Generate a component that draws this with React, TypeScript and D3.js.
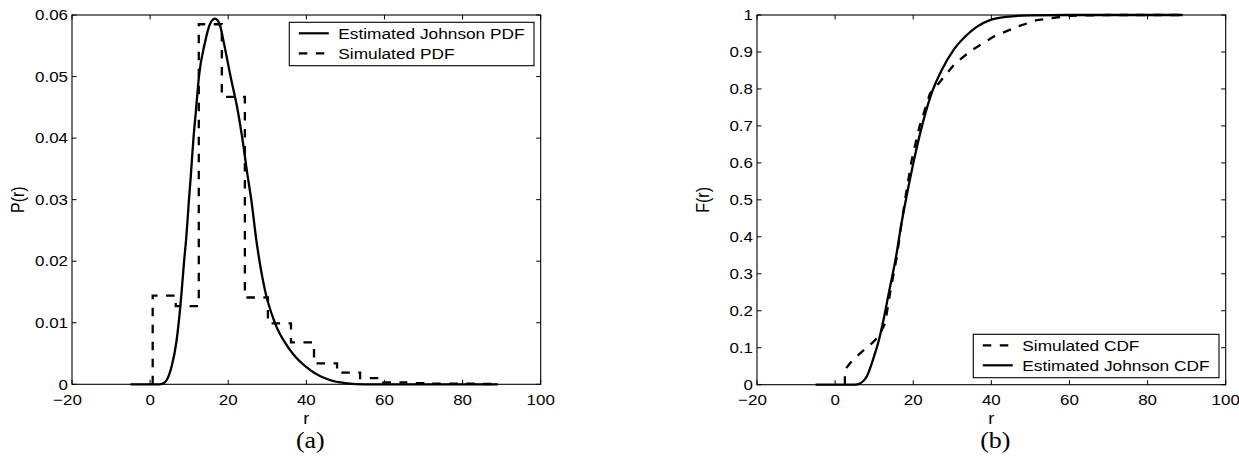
import React from "react";
import * as d3 from "d3";

// ---------- data ----------
const xTicks = [-20, 0, 20, 40, 60, 80, 100];
const pdfYTicks = [0, 0.01, 0.02, 0.03, 0.04, 0.05, 0.06];
const pdfYTickLabels = ["0", "0.01", "0.02", "0.03", "0.04", "0.05", "0.06"];
const cdfYTicks = [0, 0.1, 0.2, 0.3, 0.4, 0.5, 0.6, 0.7, 0.8, 0.9, 1];
const cdfYTickLabels = ["0", "0.1", "0.2", "0.3", "0.4", "0.5", "0.6", "0.7", "0.8", "0.9", "1"];

// Estimated Johnson PDF (r, P)
const johnsonPdfR = [-5, 2.5, 3.5, 4.25, 5.5, 6.8, 7.4, 8.1, 8.7, 9.2, 9.95, 10.4, 11.1, 11.75, 12.5, 14.0, 15.3, 16.6, 17.8, 18.9, 20.6, 22.4, 23.6, 25.0, 25.9, 27.2, 29.4, 32.0, 35.8, 41.0, 46.0, 50.0, 55.0, 89.0];
const johnsonPdfP = [0, 0, 0.0002, 0.0007, 0.0029, 0.0072, 0.0105, 0.0153, 0.02, 0.0234, 0.03, 0.0337, 0.04, 0.0446, 0.05, 0.0554, 0.0585, 0.0594, 0.0585, 0.0554, 0.05, 0.0446, 0.04, 0.0337, 0.03, 0.0234, 0.0153, 0.0099, 0.0056, 0.0023, 0.0007, 0.0002, 0, 0];

// Simulated PDF histogram (bin edges and heights)
const histEdges = [0.66, 6.56, 12.46, 18.36, 24.26, 30.16, 36.06, 41.96, 47.86, 53.76, 59.66, 65.56, 71.46, 77.36, 83.26, 89.16];
const histValues = [0.0144, 0.0127, 0.0585, 0.0467, 0.0141, 0.0099, 0.0068, 0.0034, 0.0019, 0.001, 0.0003, 0.0002, 0.0001, 0.0001, 0.00005];

// Estimated Johnson CDF (r, F)
const johnsonCdfR = [-5, 5.0, 6.5, 8.1, 9.95, 11.2, 12.2, 13.9, 15.6, 17.0, 18.3, 20.2, 22.2, 24.7, 27.3, 30.3, 33.25, 36.25, 39.65, 43.9, 50, 60, 89];
const johnsonCdfF = [0, 0, 0.004, 0.022, 0.076, 0.12, 0.166, 0.256, 0.346, 0.437, 0.51, 0.608, 0.698, 0.788, 0.851, 0.905, 0.941, 0.968, 0.986, 0.995, 0.999, 1, 1];

// Simulated CDF (r, F)
const simCdfR = [2.5, 2.5, 3.8, 6.4, 9.4, 11.1, 12.8, 14.2, 15.8, 17.0, 18.2, 19.6, 21.6, 24.3, 26.5, 30.7, 35.0, 40.5, 46.5, 51.6, 60, 70, 88.3];
const simCdfF = [0, 0.04, 0.058, 0.085, 0.112, 0.13, 0.166, 0.256, 0.346, 0.437, 0.52, 0.608, 0.698, 0.788, 0.815, 0.869, 0.905, 0.941, 0.968, 0.986, 0.998, 1, 1];

// ---------- layout ----------
const W = 1239;
const H = 463;
const SX = 1.13; // horizontal stretch of the reference's text
const FONT = "'Liberation Sans', Arial, Helvetica, sans-serif";
const DASH = "8.5,8.5";

type Pt = [number, number];

function T({ x, y, anchor = "middle", size = 15, rotate = 0, family = FONT, dx = 0, dy = "0.35em", children }: any) {
  return (
    <g transform={`translate(${x},${y}) scale(${SX},1) rotate(${rotate})`}>
      <text x={dx} dy={dy} textAnchor={anchor} fontSize={size} fontFamily={family} fill="#000">
        {children}
      </text>
    </g>
  );
}

function Panel({ x0, x1, y0, y1, yDomain, yTicks, yTickLabels, ylabel, caption, children, legend }: any) {
  const xs = d3.scaleLinear().domain([-20, 100]).range([x0, x1]);
  const ys = d3.scaleLinear().domain(yDomain).range([y0, y1]);
  const tl = 4.5;
  return children(xs, ys, (
    <g>
      <rect x={x0} y={y1} width={x1 - x0} height={y0 - y1} fill="none" stroke="#000" strokeWidth={1.1} />
      {xTicks.map((t) => (
        <g key={"xt" + t}>
          <line x1={xs(t)} x2={xs(t)} y1={y0} y2={y0 - tl} stroke="#000" strokeWidth={1} />
          <line x1={xs(t)} x2={xs(t)} y1={y1} y2={y1 + tl} stroke="#000" strokeWidth={1} />
          <T x={xs(t)} y={399.5} dx={t < 0 ? -4 : 0}>{t < 0 ? "\u2212" + Math.abs(t) : String(t)}</T>
        </g>
      ))}
      {yTicks.map((t: number, i: number) => (
        <g key={"yt" + t}>
          <line x1={x0} x2={x0 + tl} y1={ys(t)} y2={ys(t)} stroke="#000" strokeWidth={1} />
          <line x1={x1} x2={x1 - tl} y1={ys(t)} y2={ys(t)} stroke="#000" strokeWidth={1} />
          <T x={x0 - 4} y={ys(t)} anchor="end">{yTickLabels[i]}</T>
        </g>
      ))}
      <T x={(x0 + x1) / 2} y={418} size={16}>r</T>
      <T x={x0 - 54} y={(y0 + y1) / 2} size={16} rotate={-90}>{ylabel}</T>
      <T x={(x0 + x1) / 2 + 4} y={448} size={23} dy="0" family="'Liberation Serif', 'Times New Roman', serif">{caption}</T>
      {legend}
    </g>
  ));
}

function Legend({ x, y, w, h, items }: any) {
  return (
    <g>
      <rect x={x} y={y} width={w} height={h} fill="#fff" stroke="#000" strokeWidth={1.1} />
      {items.map((it: any, i: number) => {
        const cy = y + 11 + i * 20;
        return (
          <g key={it.label}>
            <line x1={x + 9.5} x2={x + 39.5} y1={cy} y2={cy} stroke="#000" strokeWidth={2.2} strokeDasharray={it.dashed ? DASH : undefined} />
            <T x={x + 49} y={cy} anchor="start" size={15.3}>{it.label}</T>
          </g>
        );
      })}
    </g>
  );
}

export default function App() {
  const zip = (a: number[], b: number[]): Pt[] => a.map((v, i) => [v, b[i]]);

  const stairs: Pt[] = [[histEdges[0], 0]];
  histValues.forEach((v, i) => {
    stairs.push([histEdges[i], v]);
    stairs.push([histEdges[i + 1], v]);
  });

  return (
    <svg width={W} height={H} style={{ position: "absolute", left: 0, top: 0, background: "#fff" }}>
      <rect x={0} y={0} width={W} height={H} fill="#fff" />
      <Panel
        x0={72} x1={540.7} y0={384.3} y1={15}
        yDomain={[0, 0.06]} yTicks={pdfYTicks} yTickLabels={pdfYTickLabels}
        ylabel="P(r)" caption="(a)"
        legend={<Legend x={289.3} y={22.3} w={244.7} h={43.4} items={[{ label: "Estimated Johnson PDF", dashed: false }, { label: "Simulated PDF", dashed: true }]} />}
      >
        {(xs: any, ys: any, frame: any) => {
          const lineSmooth = d3.line<Pt>().x((d) => xs(d[0])).y((d) => ys(d[1])).curve(d3.curveMonotoneX);
          const lineLin = d3.line<Pt>().x((d) => xs(d[0])).y((d) => ys(d[1]));
          return (
            <g>
              <path d={lineSmooth(zip(johnsonPdfR, johnsonPdfP)) || ""} fill="none" stroke="#000" strokeWidth={2.3} />
              <path d={lineLin(stairs) || ""} fill="none" stroke="#000" strokeWidth={2.3} strokeDasharray={DASH} />
              {frame}
            </g>
          );
        }}
      </Panel>
      <Panel
        x0={757} x1={1225.7} y0={384.7} y1={15}
        yDomain={[0, 1]} yTicks={cdfYTicks} yTickLabels={cdfYTickLabels}
        ylabel="F(r)" caption="(b)"
        legend={<Legend x={973.3} y={334.3} w={245.7} h={43.4} items={[{ label: "Simulated CDF", dashed: true }, { label: "Estimated Johnson CDF", dashed: false }]} />}
      >
        {(xs: any, ys: any, frame: any) => {
          const lineSmooth = d3.line<Pt>().x((d) => xs(d[0])).y((d) => ys(d[1])).curve(d3.curveMonotoneX);
          const lineLin = d3.line<Pt>().x((d) => xs(d[0])).y((d) => ys(d[1])).curve(d3.curveLinear);
          return (
            <g>
              <path d={lineSmooth(zip(johnsonCdfR, johnsonCdfF)) || ""} fill="none" stroke="#000" strokeWidth={2.3} />
              <path d={lineLin(zip(simCdfR, simCdfF)) || ""} fill="none" stroke="#000" strokeWidth={2.3} strokeDasharray={DASH} />
              {frame}
            </g>
          );
        }}
      </Panel>
    </svg>
  );
}
